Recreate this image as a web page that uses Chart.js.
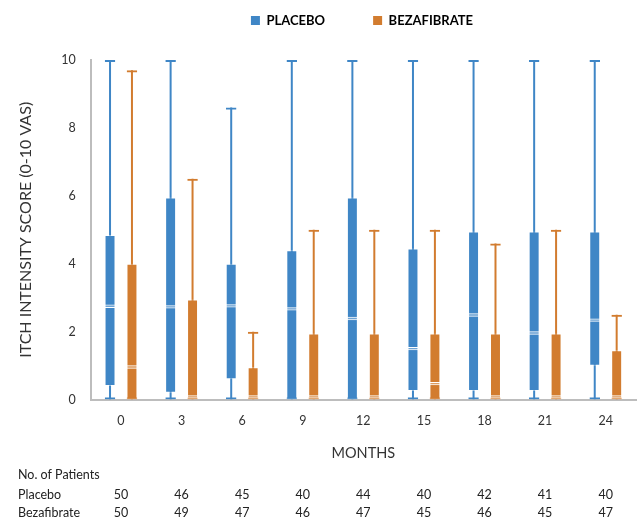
<!DOCTYPE html>
<html>
<head>
<meta charset="utf-8">
<script src="https://cdn.jsdelivr.net/npm/chart.js@4.4.1/dist/chart.umd.min.js"></script>
<style>
  html, body { margin: 0; padding: 0; background: #fff; }
  #wrap { width: 639px; height: 521px; position: relative; }
</style>
</head>
<body>
<div id="wrap"><canvas id="myChart"></canvas></div>
<script>
  const months = ["0", "3", "6", "9", "12", "15", "18", "21", "24"];

  // placebo box plot values
  const placeboMin = [0, 0, 0, 0, 0, 0, 0, 0, 0];
  const placeboQ1 = [0.4, 0.2, 0.6, 0, 0, 0.25, 0.25, 0.25, 1.0];
  const placeboMedian = [2.75, 2.73, 2.76, 2.67, 2.39, 1.5, 2.49, 1.96, 2.34];
  const placeboQ3 = [4.85, 5.95, 4.0, 4.4, 5.95, 4.45, 4.95, 4.95, 4.95];
  const placeboMax = [10, 10, 8.6, 10, 10, 10, 10, 10, 10];

  // bezafibrate box plot values
  const bezaMin = [0, 0, 0, 0, 0, 0, 0, 0, 0];
  const bezaQ1 = [0, 0, 0, 0, 0, 0, 0, 0, 0];
  const bezaMedian = [0.96, 0.08, 0.08, 0.08, 0.08, 0.47, 0.08, 0.08, 0.08];
  const bezaQ3 = [4.0, 2.95, 0.95, 1.95, 1.95, 1.95, 1.95, 1.95, 1.45];
  const bezaMax = [9.7, 6.5, 2.0, 5.0, 5.0, 5.0, 4.6, 5.0, 2.5];

  const placeboN = [50, 46, 45, 40, 44, 40, 42, 41, 40];
  const bezaN = [50, 49, 47, 46, 47, 45, 46, 45, 47];

  const blue = '#3f86c6';
  const orange = '#d27c2f';
  const font = 'Lato, "Liberation Sans", sans-serif';
  const catPct = 0.724;

  const pairs = (a, b) => a.map((v, i) => [v, b[i]]);
  const medianBand = m => m.map(v => [v - 0.05, v + 0.05]);

  function boxSet(label, stack, lo, hi, color, order) {
    return {
      label: label, stack: stack, order: order,
      data: pairs(lo, hi),
      backgroundColor: color,
      borderColor: 'rgba(255,255,255,0.45)',
      borderWidth: 1,
      borderSkipped: false,
      categoryPercentage: catPct,
      barPercentage: 0.5
    };
  }
  function medianSet(stack, med, order) {
    return {
      label: 'median', stack: stack, order: order,
      data: medianBand(med),
      backgroundColor: 'rgba(255,255,255,0.25)',
      borderColor: '#ffffff',
      borderWidth: { top: 1, bottom: 1, left: 0, right: 0 },
      borderSkipped: false,
      categoryPercentage: catPct,
      barPercentage: 0.5
    };
  }
  function stemSet(stack, lo, hi, color, order) {
    return {
      label: 'whisker', stack: stack, order: order,
      data: pairs(lo, hi),
      backgroundColor: color,
      borderWidth: 0,
      categoryPercentage: catPct,
      barPercentage: 0.1,
      maxBarThickness: 2
    };
  }
  function capSet(stack, lo, hi, color, order) {
    return {
      label: 'cap', stack: stack, order: order,
      data: pairs(lo, hi),
      backgroundColor: 'rgba(0,0,0,0)',
      borderColor: color,
      borderWidth: { top: 2, bottom: 2, left: 0, right: 0 },
      borderSkipped: false,
      categoryPercentage: catPct,
      barPercentage: 0.48
    };
  }

  // move the legend up and over the plot area
  const legendShift = {
    id: 'legendShift',
    afterLayout(chart) {
      const lg = chart.legend;
      lg.top -= 34;
      lg.bottom -= 34;
      lg.left += 72;
    }
  };

  // table of patient numbers under the axis
  const patientTable = {
    id: 'patientTable',
    afterDraw(chart) {
      const c = chart.ctx;
      const x = chart.scales.x;
      c.save();
      c.fillStyle = '#222';
      c.font = '12.5px ' + font;
      c.textBaseline = 'middle';
      c.textAlign = 'left';
      c.fillText('No. of Patients', 18, 475);
      c.fillText('Placebo', 18, 495);
      c.fillText('Bezafibrate', 18, 513);
      c.textAlign = 'center';
      months.forEach((m, i) => {
        const px = x.getPixelForValue(i);
        c.fillText(String(placeboN[i]), px, 495);
        c.fillText(String(bezaN[i]), px, 513);
      });
      c.restore();
    }
  };

  new Chart(document.getElementById('myChart'), {
    type: 'bar',
    data: {
      labels: months,
      datasets: [
        medianSet('p', placeboMedian, 0),
        medianSet('b', bezaMedian, 1),
        boxSet('PLACEBO', 'p', placeboQ1, placeboQ3, blue, 2),
        boxSet('BEZAFIBRATE', 'b', bezaQ1, bezaQ3, orange, 3),
        stemSet('p', placeboMin, placeboMax, blue, 4),
        stemSet('b', bezaMin, bezaMax, orange, 5),
        capSet('p', placeboMin, placeboMax, blue, 6),
        capSet('b', bezaMin, bezaMax, orange, 7)
      ]
    },
    options: {
      maintainAspectRatio: false,
      animation: false,
      layout: { padding: { left: 16, right: 3, top: 0, bottom: 59 } },
      plugins: {
        tooltip: { enabled: false },
        legend: {
          position: 'top',
          maxHeight: 60,
          labels: {
            filter: item => item.text === 'PLACEBO' || item.text === 'BEZAFIBRATE',
            boxWidth: 9,
            boxHeight: 9,
            padding: 48,
            color: '#111',
            font: { family: font, size: 13, weight: 'bold' },
            generateLabels(chart) {
              return chart.data.datasets.map((d, i) => ({
                text: d.label,
                fillStyle: d.backgroundColor,
                strokeStyle: d.backgroundColor,
                lineWidth: 0,
                datasetIndex: i
              }));
            }
          }
        }
      },
      scales: {
        x: {
          grid: { display: false, drawTicks: false },
          border: { color: '#bdbdbd', width: 2 },
          ticks: { color: '#333', padding: 14, font: { family: font, size: 12.5 } },
          title: {
            display: true, text: 'MONTHS', color: '#333',
            padding: { top: 2, bottom: 0 },
            font: { family: font, size: 14.5 }
          }
        },
        y: {
          stacked: false,
          min: 0,
          max: 10,
          ticks: { stepSize: 2, color: '#333', padding: 15, font: { family: font, size: 12.5 } },
          grid: { display: false, drawTicks: false },
          border: { color: '#bdbdbd', width: 2 },
          title: {
            display: true, text: 'ITCH INTENSITY SCORE (0-10 VAS)', color: '#333',
            padding: { top: 0, bottom: 11 },
            font: { family: font, size: 16 }
          }
        }
      }
    },
    plugins: [legendShift, patientTable]
  });
</script>
</body>
</html>
